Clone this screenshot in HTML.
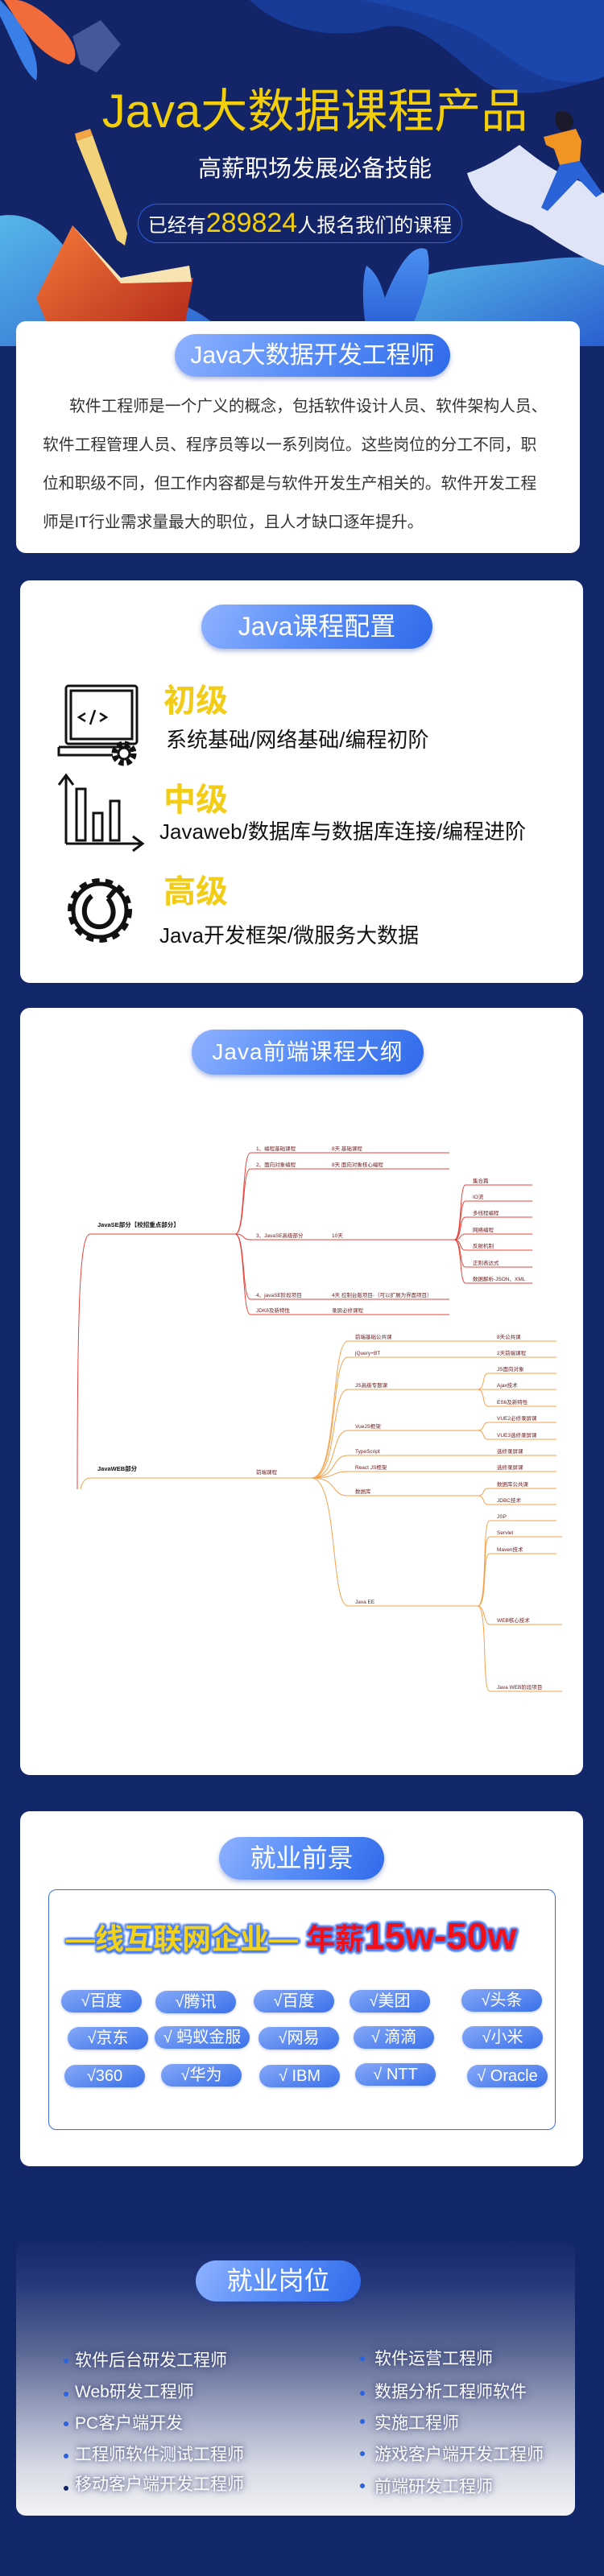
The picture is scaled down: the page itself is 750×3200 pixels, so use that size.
<!DOCTYPE html>
<html><head><meta charset="utf-8">
<style>
*{margin:0;padding:0;box-sizing:border-box}
body{width:750px;height:3200px;background:#12266a;position:relative;overflow:hidden;font-family:"Liberation Sans","Noto Sans CJK SC",sans-serif}
.abs{position:absolute}
.card{position:absolute;background:#fff;border-radius:12px}
.pill{position:absolute;border-radius:40px;background:linear-gradient(120deg,#8fb2ff 0%,#5b8ff8 45%,#2f6aea 100%);color:#fff;text-align:center;box-shadow:0 3px 6px rgba(30,60,160,.35);white-space:nowrap}
.pl{position:absolute;left:53px;font-size:19.8px;line-height:24px;color:#333;white-space:nowrap}
.lvl{position:absolute;color:#f2cc16;font-size:40px;font-weight:bold;line-height:1}
.sub{position:absolute;color:#111;font-size:26px;line-height:1;white-space:nowrap}
.chip{position:absolute;height:28px;width:100px;border-radius:14px;background:linear-gradient(160deg,#86a9f8,#3a70ea);color:#fff;font-size:20px;line-height:28px;text-align:center;box-shadow:0 1px 3px rgba(30,60,160,.3)}
.job{position:absolute;color:#fff;font-size:21px;line-height:1;white-space:nowrap;text-shadow:0 0 6px rgba(40,50,110,.7),0 0 10px rgba(40,50,110,.5)}
.dot{position:absolute;width:6px;height:6px;border-radius:3px;background:#2b62e0}
</style></head><body>

<svg class="abs" style="left:0;top:0" width="750" height="430" viewBox="0 0 750 430">
<defs>
<linearGradient id="wl" x1="0" y1="0" x2="1" y2="1"><stop offset="0" stop-color="#57b6e8"/><stop offset="1" stop-color="#2a5fcf"/></linearGradient>
<linearGradient id="bk" x1="0" y1="0" x2="1" y2="1"><stop offset="0" stop-color="#f47a3a"/><stop offset="1" stop-color="#b02418"/></linearGradient>
<linearGradient id="lf" x1="0" y1="0" x2="0" y2="1"><stop offset="0" stop-color="#4a90f0"/><stop offset="1" stop-color="#2457d0"/></linearGradient>
</defs>
<rect width="750" height="430" fill="#132468"/>
<path d="M310 0 C350 40 420 50 470 35 C520 20 560 70 600 100 C640 130 700 110 750 95 L750 0Z" fill="#183b98"/>
<path d="M450 0 C500 10 530 20 560 30 C610 45 640 90 690 100 C720 105 740 100 750 95 L750 0Z" fill="#1b47ad"/>
<path d="M0 268 C40 262 70 290 90 320 C110 350 150 360 200 370 C240 380 270 400 290 430 L0 430Z" fill="url(#wl)"/>
<path d="M520 345 C560 330 620 330 680 322 C710 318 740 320 750 322 L750 430 L500 430 C500 400 505 360 520 345Z" fill="url(#wl)"/>
<path d="M0 20 C20 60 30 90 45 100 C50 80 40 40 0 0Z" fill="#3a7ee8"/>
<path d="M5 0 C30 40 50 70 85 80 C100 75 95 50 70 30 C50 10 30 0 20 0Z" fill="#f26b3a"/>
<path d="M90 45 L125 25 L150 55 L120 90 L100 80Z" fill="#5c6fb0" opacity=".7"/>
<path d="M95 175 L115 168 L158 290 L155 305 L145 298 Z" fill="#f2d27a"/>
<path d="M95 175 L115 168 L112 160 L93 166Z" fill="#f3a545"/>
<path d="M90 280 L150 345 L240 345 L225 430 L70 430 L45 370Z" fill="url(#bk)"/>
<path d="M90 280 L150 345 L235 330 L238 350 L150 352Z" fill="#f7e4b2"/>
<path d="M455 330 C470 340 475 360 478 370 C490 340 510 300 530 310 C540 340 520 390 500 430 L460 430 C450 400 448 350 455 330Z" fill="url(#lf)"/>
<path d="M580 215 C610 205 630 190 645 180 C670 200 690 215 720 225 C740 235 750 240 750 240 L750 330 C720 320 690 300 660 280 C620 265 590 250 580 215Z" fill="#dfe5f7"/>
<path d="M690 140 C700 135 710 140 712 150 C712 160 705 165 698 163 C690 160 688 148 690 140Z" fill="#1a1a2a"/>
<path d="M695 165 L715 160 L722 175 L720 200 L695 205 L688 185 L678 180 L675 170Z" fill="#f29422"/>
<path d="M695 205 L720 200 L748 240 L740 245 L718 222 L680 262 L672 258Z" fill="#2a62d8"/>
</svg>

<div class="abs" style="left:0;top:106px;width:750px;text-align:center;color:#f2cf0a;font-size:58px;line-height:66px;white-space:nowrap;padding-left:32px">Java大数据课程产品</div>
<div class="abs" style="left:0;top:194px;width:750px;text-align:center;color:#fff;font-size:29px;line-height:32px;padding-left:32px">高薪职场发展必备技能</div>
<div class="abs" style="left:171px;top:253px;width:403px;height:49px;border:1.5px solid #2f5ee0;border-radius:25px;color:#fff;text-align:center;line-height:47px;font-size:24px;white-space:nowrap">已经有<span style="color:#f2cf0a;font-size:34px">289824</span>人报名我们的课程</div>

<div class="card" style="left:20px;top:399px;width:700px;height:288px"></div>
<div class="pill" style="left:217px;top:415px;width:342px;height:53px;line-height:53px;font-size:30px">Java大数据开发工程师</div>
<div class="pl" style="top:493px;left:86px">软件工程师是一个广义的概念，包括软件设计人员、软件架构人员、</div>
<div class="pl" style="top:541px">软件工程管理人员、程序员等以一系列岗位。这些岗位的分工不同，职</div>
<div class="pl" style="top:589px">位和职级不同，但工作内容都是与软件开发生产相关的。软件开发工程</div>
<div class="pl" style="top:637px">师是IT行业需求量最大的职位，且人才缺口逐年提升。</div>

<div class="card" style="left:25px;top:721px;width:699px;height:500px"></div>
<div class="pill" style="left:250px;top:751px;width:287px;height:55px;line-height:55px;font-size:32px">Java课程配置</div>
<svg class="abs" style="left:70px;top:848px" width="120" height="340" viewBox="0 0 120 340">
<g fill="none" stroke="#111" stroke-width="3">
<rect x="12" y="4" width="88" height="72" rx="3"/>
<rect x="18" y="10" width="76" height="60"/>
<path d="M3 80 H92 M3 80 V90 H70"/>
<path d="M36 38 L28 43 L36 48 M54 38 L62 43 L54 48 M48 34 L42 52" stroke-width="2.5"/>
<circle cx="84" cy="88" r="12" stroke-width="7" stroke-dasharray="6 3.5"/>
<circle cx="84" cy="88" r="7" stroke-width="3"/>
<path d="M12 200 V117 M3 127 L12 115 L21 127" />
<path d="M12 200 H105 M95 191 L107 200 L95 209"/>
<rect x="25" y="132" width="11" height="64"/>
<rect x="46" y="162" width="11" height="34"/>
<rect x="67" y="147" width="11" height="49"/>
<circle cx="54" cy="283" r="36" stroke-width="8" stroke-dasharray="9 7"/>
<circle cx="54" cy="283" r="33" stroke-width="5"/>
<path d="M44 265 C30 275 32 300 50 303 C68 306 78 285 64 268 M64 268 L74 256" stroke-width="6"/>
</g>
</svg>
<div class="lvl" style="left:203px;top:851px">初级</div>
<div class="sub" style="left:206px;top:906px">系统基础/网络基础/编程初阶</div>
<div class="lvl" style="left:203px;top:974px">中级</div>
<div class="sub" style="left:198px;top:1020px">Javaweb/数据库与数据库连接/编程进阶</div>
<div class="lvl" style="left:203px;top:1088px">高级</div>
<div class="sub" style="left:198px;top:1149px">Java开发框架/微服务大数据</div>

<div class="card" style="left:25px;top:1252px;width:699px;height:953px"></div>
<div class="pill" style="left:238px;top:1279px;width:288px;height:56px;line-height:56px;font-size:28px;letter-spacing:1px">Java前端课程大纲</div>
<svg class="abs" style="left:0;top:0" width="750" height="2200" viewBox="0 0 750 2200" font-family="Liberation Sans, Noto Sans CJK SC, sans-serif" font-size="6.5">
<g fill="none" stroke="#e8433b" stroke-width="1">
<path d="M96 1850 C96 1600 100 1533 112 1533 H292"/>
<path d="M292 1533 C305 1533 300 1432 311 1432 H558"/>
<path d="M292 1533 C305 1533 300 1452 311 1452 H558"/>
<path d="M292 1533 C305 1533 300 1540 311 1540 H558 L564 1540"/>
<path d="M292 1533 C305 1533 300 1614 311 1614 H558"/>
<path d="M292 1533 C305 1533 300 1633 311 1633 H558"/>
<path d="M564 1540 C574 1540 570 1472 578 1472 H661"/>
<path d="M564 1540 C574 1540 570 1492 578 1492 H661"/>
<path d="M564 1540 C574 1540 570 1512 578 1512 H661"/>
<path d="M564 1540 C574 1540 570 1533 578 1533 H661"/>
<path d="M564 1540 C574 1540 570 1553 578 1553 H661"/>
<path d="M564 1540 C574 1540 570 1574 578 1574 H661"/>
<path d="M564 1540 C574 1540 570 1594 578 1594 H661"/>
</g>
<g fill="none" stroke="#f5a24c" stroke-width="1">
<path d="M100 1850 C102 1840 106 1836 112 1836 H387"/>
<path d="M387 1836 C420 1836 410 1666 432 1666 H691"/>
<path d="M387 1836 C420 1836 410 1686 432 1686 H691"/>
<path d="M387 1836 C420 1836 410 1726 432 1726 H593"/>
<path d="M387 1836 C420 1836 410 1777 432 1777 H593"/>
<path d="M387 1836 C420 1836 410 1808 432 1808 H691"/>
<path d="M387 1836 C420 1836 410 1828 432 1828 H691"/>
<path d="M387 1836 C420 1836 410 1858 432 1858 H593"/>
<path d="M387 1836 C420 1836 410 1995 432 1995 H593"/>
<path d="M593 1726 C603 1726 598 1706 606 1706 H691"/>
<path d="M593 1726 H691"/>
<path d="M593 1726 C603 1726 598 1747 606 1747 H691"/>
<path d="M593 1777 C603 1777 598 1767 606 1767 H691"/>
<path d="M593 1777 C603 1777 598 1788 606 1788 H691"/>
<path d="M593 1858 C603 1858 598 1849 606 1849 H691"/>
<path d="M593 1858 C603 1858 598 1869 606 1869 H691"/>
<path d="M593 1995 C606 1995 598 1889 608 1889 H691"/>
<path d="M593 1995 C606 1995 598 1909 608 1909 H698"/>
<path d="M593 1995 C606 1995 598 1930 608 1930 H691"/>
<path d="M593 1995 C603 1995 600 2018 608 2018 H698"/>
<path d="M593 1995 C606 1995 598 2101 608 2101 H698"/>
</g>
<g fill="#6b1a1a">
<text x="121" y="1524" font-weight="bold" font-size="7.5" fill="#111">JavaSE部分【校招重点部分】</text>
<text x="318" y="1429">1、编程基础课程</text><text x="412" y="1429">8天 基础课程</text>
<text x="318" y="1449">2、面向对象编程</text><text x="412" y="1449">8天 面向对象核心编程</text>
<text x="318" y="1537">3、JavaSE高级部分</text><text x="412" y="1537">10天</text>
<text x="318" y="1611">4、javaSE阶段项目</text><text x="412" y="1611">4天 控制台版项目-（可以扩展为界面项目）</text>
<text x="318" y="1630">JDK8及新特性</text><text x="412" y="1630">录屏必修课程</text>
<text x="587" y="1469">集合篇</text><text x="587" y="1489">IO流</text><text x="587" y="1509">多线程编程</text><text x="587" y="1530">网络编程</text><text x="587" y="1550">反射机制</text><text x="587" y="1571">正则表达式</text><text x="587" y="1591">数据解析-JSON、XML</text>
<text x="121" y="1827" font-weight="bold" font-size="7.5" fill="#111">JavaWEB部分</text>
<text x="318" y="1831">前端课程</text>
<text x="441" y="1663">前端基础公共课</text><text x="617" y="1663">8天公共课</text>
<text x="441" y="1683">jQuery+BT</text><text x="617" y="1683">2天前端课程</text>
<text x="441" y="1723">JS高级专题课</text>
<text x="617" y="1703">JS面向对象</text><text x="617" y="1723">Ajax技术</text><text x="617" y="1744">ES6及新特性</text>
<text x="441" y="1774">VueJS框架</text>
<text x="617" y="1764">VUE2必修录屏课</text><text x="617" y="1785">VUE3选修录屏课</text>
<text x="441" y="1805">TypeScript</text><text x="617" y="1805">选修录屏课</text>
<text x="441" y="1825">React JS框架</text><text x="617" y="1825">选修录屏课</text>
<text x="441" y="1855">数据库</text>
<text x="617" y="1846">数据库公共课</text><text x="617" y="1866">JDBC技术</text>
<text x="441" y="1992">Java EE</text>
<text x="617" y="1886">JSP</text><text x="617" y="1906">Servlet</text><text x="617" y="1927">Maven技术</text><text x="617" y="2015">WEB核心技术</text><text x="617" y="2098">Java WEB阶段项目</text>
</g>
</svg>

<div class="card" style="left:25px;top:2250px;width:699px;height:441px"></div>
<div class="pill" style="left:272px;top:2282px;width:205px;height:53px;line-height:53px;font-size:32px">就业前景</div>
<div class="abs" style="left:60px;top:2347px;width:630px;height:299px;border:1.5px solid #3b6fe0;border-radius:10px"></div>
<div class="abs" style="left:82px;top:2380px;white-space:nowrap;font-weight:bold;line-height:50px;text-shadow:0 0 3px #4a7ef0,2px 2px 2px #4a7ef0,-2px -2px 2px #4a7ef0,2px -2px 2px #4a7ef0,-2px 2px 2px #4a7ef0,0 3px 2px #4a7ef0,3px 0 2px #4a7ef0">
<span style="color:#f2d21a;font-size:36px">—线互联网企业—</span><span style="color:#f0101a;font-size:36px"> 年薪</span><span style="color:#f0101a;font-size:46px">15w-50w</span></div>
<div class="chip" style="left:76px;top:2472px">√百度</div>
<div class="chip" style="left:193px;top:2473px">√腾讯</div>
<div class="chip" style="left:315px;top:2472px">√百度</div>
<div class="chip" style="left:434px;top:2472px">√美团</div>
<div class="chip" style="left:573px;top:2471px">√头条</div>
<div class="chip" style="left:84px;top:2518px">√京东</div>
<div class="chip" style="left:192px;top:2517px;width:118px">√ 蚂蚁金服</div>
<div class="chip" style="left:321px;top:2518px">√网易</div>
<div class="chip" style="left:439px;top:2517px">√ 滴滴</div>
<div class="chip" style="left:574px;top:2517px">√小米</div>
<div class="chip" style="left:80px;top:2565px">√360</div>
<div class="chip" style="left:200px;top:2564px">√华为</div>
<div class="chip" style="left:322px;top:2565px">√ IBM</div>
<div class="chip" style="left:441px;top:2563px">√ NTT</div>
<div class="chip" style="left:580px;top:2565px">√ Oracle</div>

<div class="abs" style="left:20px;top:2784px;width:694px;height:341px;border-radius:12px;background:linear-gradient(180deg,#15286c 0%,#25387a 15%,#5a6794 40%,#a4abc6 65%,#d6d9e4 82%,#f3f3f5 100%)"></div>
<div class="pill" style="left:243px;top:2808px;width:205px;height:51px;line-height:51px;font-size:32px">就业岗位</div>
<div class="dot" style="left:79px;top:2930px"></div><div class="job" style="left:93px;top:2922px">软件后台研发工程师</div>
<div class="dot" style="left:79px;top:2971px"></div><div class="job" style="left:93px;top:2961px">Web研发工程师</div>
<div class="dot" style="left:79px;top:3008px"></div><div class="job" style="left:93px;top:3000px">PC客户端开发</div>
<div class="dot" style="left:79px;top:3048px"></div><div class="job" style="left:93px;top:3039px">工程师软件测试工程师</div>
<div class="dot" style="left:79px;top:3088px;background:#0c2260"></div><div class="job" style="left:93px;top:3076px">移动客户端开发工程师</div>
<div class="dot" style="left:447px;top:2927px"></div><div class="job" style="left:465px;top:2920px">软件运营工程师</div>
<div class="dot" style="left:447px;top:2970px"></div><div class="job" style="left:465px;top:2961px">数据分析工程师软件</div>
<div class="dot" style="left:447px;top:3005px"></div><div class="job" style="left:465px;top:3000px">实施工程师</div>
<div class="dot" style="left:447px;top:3045px"></div><div class="job" style="left:465px;top:3039px">游戏客户端开发工程师</div>
<div class="dot" style="left:447px;top:3085px"></div><div class="job" style="left:465px;top:3079px">前端研发工程师</div>

</body></html>
